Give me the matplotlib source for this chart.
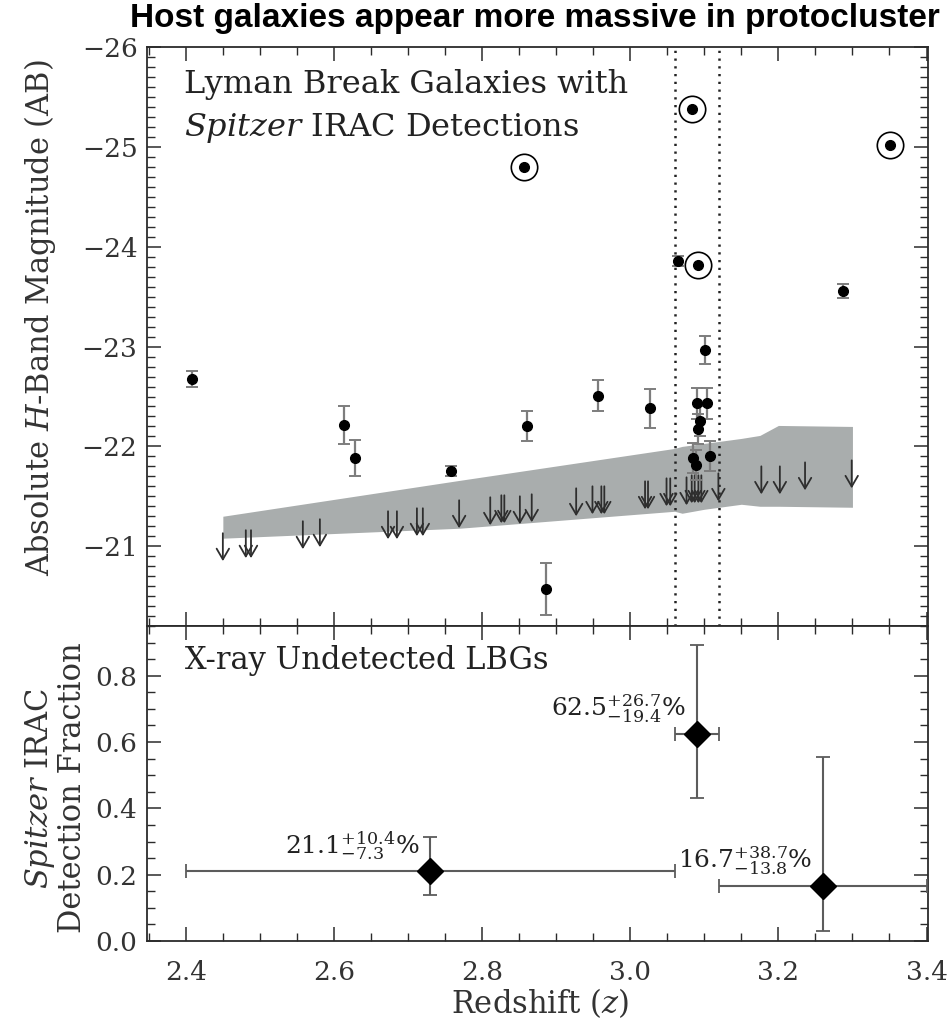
import matplotlib
matplotlib.use("Agg")
import matplotlib.pyplot as plt
from matplotlib.ticker import MultipleLocator
import numpy as np

# ---------------- data ----------------
# detected LBGs (filled dots with error bars)
det_z = [2.408, 2.613, 2.628, 2.758, 2.861, 2.886, 2.956, 3.027, 3.065, 3.085,
         3.089, 3.090, 3.092, 3.094, 3.101, 3.103, 3.108, 3.287]
det_M = [-22.68, -22.21, -21.88, -21.75, -22.20, -20.57, -22.51, -22.38, -23.86, -21.88,
         -21.81, -22.43, -22.17, -22.25, -22.97, -22.43, -21.90, -23.56]
det_err = [0.08, 0.19, 0.18, 0.05, 0.15, 0.26, 0.16, 0.20, 0.05, 0.15,
           0.15, 0.16, 0.15, 0.15, 0.14, 0.16, 0.15, 0.07]

# circled (X-ray detected) sources
circ_z = [2.857, 3.083, 3.091, 3.351]
circ_M = [-24.80, -25.38, -23.82, -25.02]

# upper limits (arrows)
up_z = [2.450, 2.481, 2.488, 2.558, 2.581, 2.673, 2.685, 2.712, 2.720, 2.769,
        2.811, 2.826, 2.830, 2.851, 2.867, 2.927, 2.949, 2.961, 2.965, 3.020,
        3.024, 3.049, 3.054, 3.076, 3.083, 3.087, 3.092, 3.096, 3.119, 3.177,
        3.202, 3.236, 3.299]
up_M = [-21.13, -21.16, -21.16, -21.25, -21.27, -21.35, -21.35, -21.38, -21.38, -21.46,
        -21.49, -21.51, -21.51, -21.50, -21.52, -21.58, -21.60, -21.60, -21.60, -21.65,
        -21.65, -21.68, -21.68, -21.69, -21.71, -21.71, -21.71, -21.71, -21.73, -21.80,
        -21.80, -21.84, -21.86]

# shaded limiting-magnitude band
shade_z = [2.45, 2.77, 3.06, 3.07, 3.10, 3.15, 3.175, 3.20, 3.30]
shade_top = [-21.30, -21.66, -21.98, -22.00, -22.03, -22.08, -22.11, -22.21, -22.20]
shade_bot = [-21.08, -21.18, -21.35, -21.33, -21.37, -21.42, -21.40, -21.40, -21.39]

# protocluster redshift limits
proto_z = [3.06, 3.12]

# detection fraction panel
frac_z = [2.73, 3.09, 3.26]
frac = [0.211, 0.625, 0.167]
frac_up = [0.104, 0.267, 0.387]
frac_lo = [0.073, 0.194, 0.138]
bin_lo = [2.40, 3.06, 3.12]
bin_hi = [3.06, 3.12, 3.40]

# ---------------- figure ----------------
SERIF = "DejaVu Serif"
plt.rcParams["font.family"] = SERIF
plt.rcParams["mathtext.fontset"] = "dejavuserif"
plt.rcParams["axes.linewidth"] = 1.3
FG = "#2b2b2b"
TXT = 22

W, H = 950, 1024
fig = plt.figure(figsize=(W / 100, H / 100), dpi=100)

L, R = 147.3, 928.0
T1, B1 = 47.3, 626.0
B2 = 941.0
ax1 = fig.add_axes([L / W, 1 - B1 / H, (R - L) / W, (B1 - T1) / H])
ax2 = fig.add_axes([L / W, 1 - B2 / H, (R - L) / W, (B2 - B1) / H], sharex=ax1)

for ax in (ax1, ax2):
    for sp in ax.spines.values():
        sp.set_color(FG)
    ax.tick_params(which="both", direction="in", top=True, right=True, colors=FG,
                   labelcolor="#333333", labelsize=19)
    ax.tick_params(which="major", length=10, width=1.1)
    ax.tick_params(which="minor", length=5.5, width=1.0)
    ax.tick_params(axis="y", pad=7)
    ax.tick_params(axis="x", pad=14)

# ---- top panel ----
ax1.set_xlim(2.348, 3.402)
ax1.set_ylim(-20.2, -26.0)
ax1.xaxis.set_major_locator(MultipleLocator(0.2))
ax1.xaxis.set_minor_locator(MultipleLocator(0.05))
ax1.yaxis.set_major_locator(MultipleLocator(1))
ax1.yaxis.set_minor_locator(MultipleLocator(0.1))
ax1.tick_params(axis="x", labelbottom=False)

ax1.fill_between(shade_z, shade_top, shade_bot, color="#a9adad", lw=0, zorder=1)

for z in proto_z:
    ax1.axvline(z, color="#222222", lw=1.8, ls=(0, (0.9, 2.2)), zorder=2)

for z, m in zip(up_z, up_M):
    ax1.annotate("", xy=(z, m + 0.28), xytext=(z, m),
                 arrowprops=dict(arrowstyle="->,head_length=0.55,head_width=0.32",
                                 color="#2e2e2e", lw=1.3, shrinkA=0, shrinkB=0,
                                 mutation_scale=14),
                 zorder=3)

ax1.errorbar(det_z, det_M, yerr=det_err, fmt="o", ms=7, color="black",
             ecolor="#7d7d7d", elinewidth=1.6, capsize=4.5, capthick=1.4, zorder=5)

ax1.plot(circ_z, circ_M, "o", ms=7, color="black", zorder=5)
ax1.plot(circ_z, circ_M, "o", ms=19, mfc="none", mec="black", mew=1.2, zorder=5)

ax1.text(0.047, 0.935, "Lyman Break Galaxies with", transform=ax1.transAxes,
         fontsize=23, color="#222222", va="center", ha="left")
ax1.text(0.047, 0.860, r"$Spitzer$ IRAC Detections", transform=ax1.transAxes,
         fontsize=23, color="#222222", va="center", ha="left")

# ---- bottom panel ----
ax2.set_ylim(0.0, 0.95)
ax2.yaxis.set_major_locator(MultipleLocator(0.2))
ax2.yaxis.set_minor_locator(MultipleLocator(0.05))
ax2.xaxis.set_major_formatter(plt.FuncFormatter(lambda v, p: f"{v:.1f}"))
ax2.yaxis.set_major_formatter(plt.FuncFormatter(lambda v, p: f"{v:.1f}"))

xl = np.array(frac_z) - np.array(bin_lo)
xh = np.array(bin_hi) - np.array(frac_z)
ax2.errorbar(frac_z, frac, yerr=[frac_lo, frac_up], xerr=[xl, xh], fmt="D", ms=13,
             color="black", ecolor="#5c5c5c", elinewidth=1.5, capsize=5, capthick=1.3,
             zorder=5)

for z, f, u, lo in zip(frac_z, frac, frac_up, frac_lo):
    lab = r"$%.1f^{+%.1f}_{-%.1f}$%%" % (f * 100, u * 100, lo * 100)
    ax2.annotate(lab, xy=(z, f), xytext=(-8, 18), textcoords="offset points",
                 ha="right", va="center", fontsize=18, color="#222222")

ax2.text(0.048, 0.89, "X-ray Undetected LBGs", transform=ax2.transAxes,
         fontsize=TXT, color="#222222", va="center", ha="left")

# ---- axis labels ----
fig.text(40 / W, 1 - 318 / H, r"Absolute $H$-Band Magnitude (AB)", rotation=90,
         ha="center", va="center", fontsize=TXT, color="#333333")
fig.text(40 / W, 1 - 788 / H, r"$Spitzer$ IRAC", rotation=90,
         ha="center", va="center", fontsize=TXT, color="#333333")
fig.text(73 / W, 1 - 788 / H, "Detection Fraction", rotation=90,
         ha="center", va="center", fontsize=TXT, color="#333333")
fig.text(540 / W, 1 - 1003 / H, r"Redshift ($z$)", ha="center", va="center",
         fontsize=TXT, color="#333333")

fig.text(940 / W, 1 - 19 / H, "Host galaxies appear more massive in protocluster",
         ha="right", va="center", fontsize=24, fontweight="bold",
         family="Liberation Sans", color="black")

fig.savefig("out.png", dpi=100)
